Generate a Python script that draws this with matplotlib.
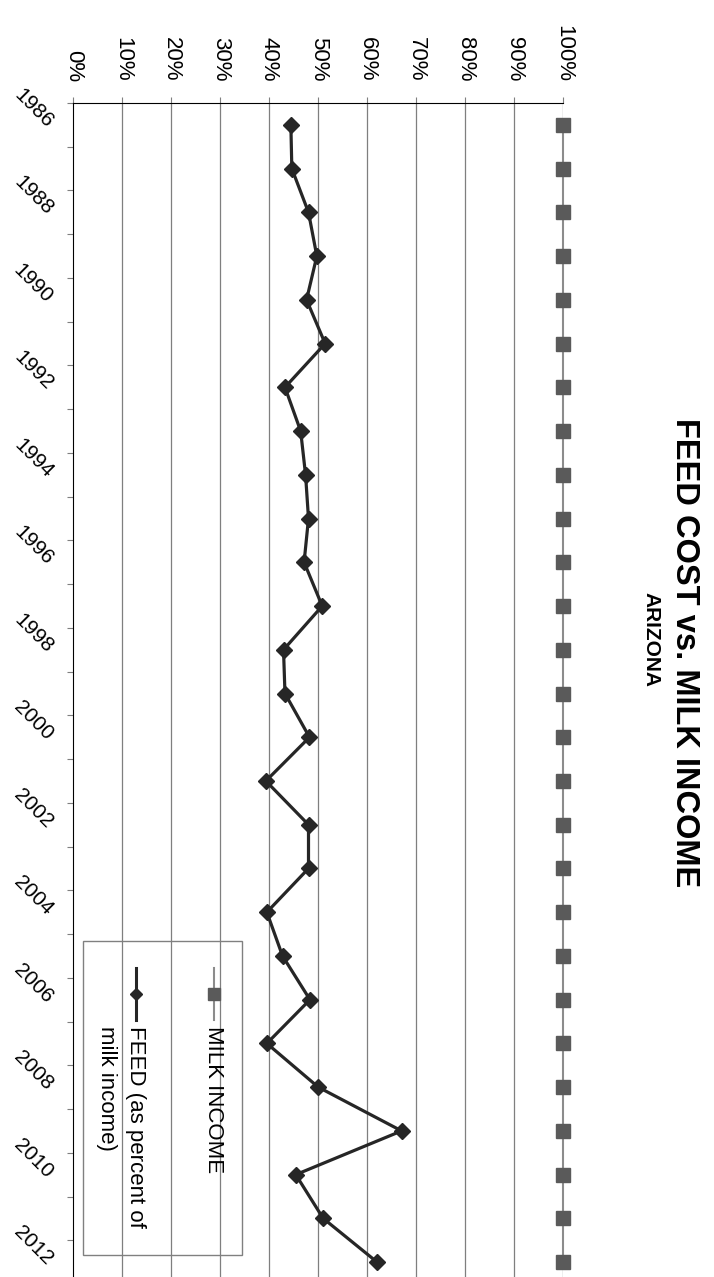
import matplotlib
matplotlib.use("Agg")
import matplotlib.pyplot as plt
from matplotlib.lines import Line2D
from matplotlib.patches import Rectangle
import numpy as np

plt.rcParams["font.family"] = ["Liberation Sans", "DejaVu Sans"]

years = list(range(1986, 2013))
milk_income = [100] * len(years)
feed_pct = [44.4, 44.6, 48.0, 49.7, 47.6, 51.4, 43.2, 46.4, 47.4, 48.0,
            47.1, 50.8, 42.9, 43.2, 48.2, 39.3, 48.0, 48.0, 39.5, 42.7,
            48.3, 39.5, 50.0, 67.0, 45.4, 51.0, 62.0]
pct_ticks = list(range(0, 101, 10))
pct_labels = [f"{p}%" for p in pct_ticks]

title = "FEED COST vs. MILK INCOME"
subtitle = "ARIZONA"
milk_label = "MILK INCOME"
feed_label = "FEED (as percent of\nmilk income)"

W, H = 714, 1277
fig = plt.figure(figsize=(W / 100, H / 100), dpi=100)

# chart is drawn rotated: years run down the page, percent runs left->right
x0, x1 = 73.3, 563.3
y_top, y_bot = 103, 1284
ax = fig.add_axes([x0 / W, 1 - y_bot / H, (x1 - x0) / W, (y_bot - y_top) / H])

pos = np.arange(len(years))
ax.set_xlim(0, 100)
ax.set_ylim(len(years) - 0.5, -0.5)

for p in pct_ticks[1:]:
    ax.axvline(p, color="#7f7f7f", lw=0.9, zorder=1)

milk_line_c, milk_mark_c = "#8c8c8c", "#5a5a5a"
feed_c = "#262626"
ax.plot(milk_income, pos, color=milk_line_c, lw=1.5, marker="s", ms=10,
        mfc=milk_mark_c, mec=milk_mark_c, clip_on=False, zorder=3)
ax.plot(feed_pct, pos, color=feed_c, lw=2.3, marker="D", ms=8,
        mfc=feed_c, mec=feed_c, clip_on=False, zorder=4)

for s in ["right", "bottom"]:
    ax.spines[s].set_visible(False)
ax.spines["top"].set_color("black")
ax.spines["left"].set_color("black")

ax.xaxis.tick_top()
ax.set_xticks(pct_ticks)
ax.set_xticklabels(pct_labels, rotation=-90, fontsize=16)
ax.tick_params(axis="x", length=4.3, width=0.8, color="#7f7f7f", pad=11)

ax.set_yticks(pos[::2])
ax.set_yticklabels([str(y) for y in years[::2]], rotation=-45, fontsize=15,
                   ha="right", va="center", rotation_mode="anchor")
ax.set_yticks(np.arange(-0.5, len(years), 1), minor=True)
ax.tick_params(axis="y", which="major", length=0, pad=17)
ax.tick_params(axis="y", which="minor", length=4.3, width=0.8, color="#7f7f7f")

fig.text(684 / W, 1 - 653 / H, title, rotation=-90, fontsize=23.5,
         fontweight="bold", ha="center", va="center")
fig.text(651 / W, 1 - 640 / H, subtitle, rotation=-90, fontsize=15,
         fontweight="bold", ha="center", va="center")

# legend, drawn by hand because it is rotated with the chart
fig.patches.append(Rectangle((83 / W, 1 - 1255 / H), (242 - 83) / W,
                             (1255 - 941) / H, transform=fig.transFigure,
                             fill=False, ec="#808080", lw=1))
for xc, lc, mk, mc, ms, lw in [(214, milk_line_c, "s", milk_mark_c, 9, 1.5),
                               (136, feed_c, "D", feed_c, 6, 2.2)]:
    fig.lines.append(Line2D([xc / W, xc / W], [1 - 968 / H, 1 - 1020 / H],
                            transform=fig.transFigure, color=lc, lw=lw))
    fig.lines.append(Line2D([xc / W], [1 - 994 / H], transform=fig.transFigure,
                            marker=mk, ms=ms, mfc=mc, mec=mc, ls="none"))
fig.text(214 / W, 1 - 1026 / H, milk_label, rotation=-90, fontsize=16,
         ha="center", va="top")
fig.text(120.5 / W, 1 - 1026 / H, feed_label, rotation=-90, fontsize=16,
         ha="center", va="top", linespacing=1.5, multialignment="left")

fig.savefig("out.png", dpi=100)
